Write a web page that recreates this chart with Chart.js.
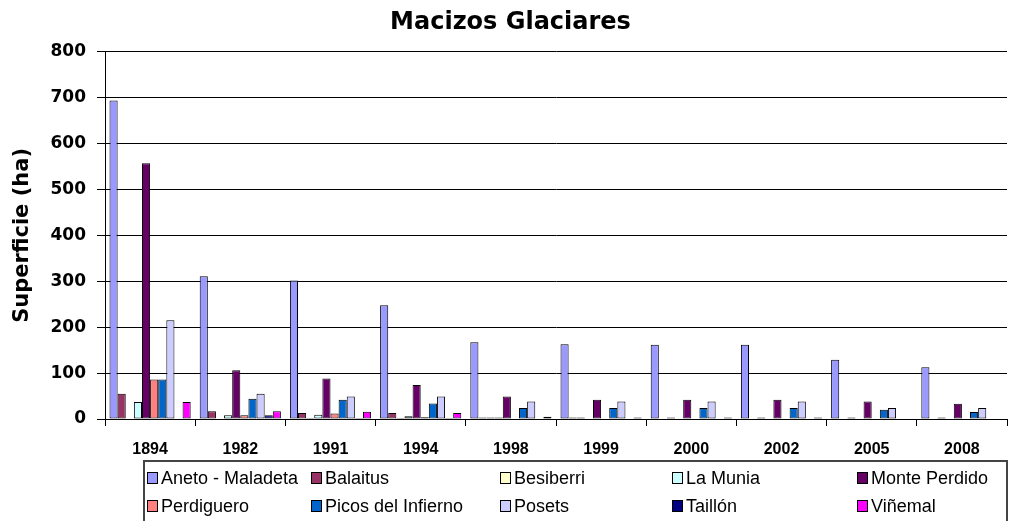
<!DOCTYPE html>
<html>
<head>
<meta charset="utf-8">
<script src="https://cdn.jsdelivr.net/npm/chart.js@4.4.0/dist/chart.umd.min.js"></script>
<style>
  html, body { margin: 0; padding: 0; background: #ffffff; }
  #wrap { width: 1012px; height: 521px; }
</style>
</head>
<body>
<div id="wrap"><canvas id="c" width="1012" height="521"></canvas></div>
<script>
const years = ['1894', '1982', '1991', '1994', '1998', '1999', '2000', '2002', '2005', '2008'];
const yTicks = [0, 100, 200, 300, 400, 500, 600, 700, 800];

const anetoMaladeta    = [694, 311, 302, 248, 167, 163, 162, 162, 129, 113];
const balaitus         = [55, 17, 13, 13, 3, 3, 0, 0, 0, 0];
const besiberri        = [0, 0, 2, 2, 3, 3, 3, 3, 3, 3];
const laMunia          = [37, 8, 9, 6, 3, 0, 0, 0, 0, 0];
const montePerdido     = [557, 106, 88, 74, 49, 42, 42, 42, 38, 33];
const perdiguero       = [86, 8, 12, 4, 0, 0, 0, 0, 0, 0];
const picosDelInfierno = [86, 44, 42, 34, 24, 24, 24, 24, 20, 15];
const posets           = [215, 55, 49, 49, 38, 38, 38, 38, 24, 24];
const taillon          = [0, 8, 2, 2, 0, 0, 0, 0, 0, 0];
const vinemal          = [37, 17, 16, 13, 5, 3, 3, 3, 0, 0];

const seriesNames  = ['Aneto - Maladeta', 'Balaitus', 'Besiberri', 'La Munia', 'Monte Perdido',
                      'Perdiguero', 'Picos del Infierno', 'Posets', 'Taillón', 'Viñemal'];
const seriesValues = [anetoMaladeta, balaitus, besiberri, laMunia, montePerdido,
                      perdiguero, picosDelInfierno, posets, taillon, vinemal];
const seriesColors = ['#9999FF', '#993366', '#FFFFCC', '#CCFFFF', '#660066',
                      '#FF8080', '#0066CC', '#CCCCFF', '#000080', '#FF00FF'];

const datasets = seriesNames.map((name, i) => ({
  label: name,
  data: seriesValues[i],
  backgroundColor: seriesColors[i],
  borderColor: '#000000',
  borderWidth: 1,
  borderSkipped: false,
  categoryPercentage: 0.9,
  barPercentage: 1.0
}));

const legendPlugin = {
  id: 'boxLegend',
  afterDraw(chart) {
    const ctx = chart.ctx;
    ctx.save();
    ctx.strokeStyle = '#444444';
    ctx.lineWidth = 2;
    ctx.strokeRect(144, 461, 863, 70);
    const colX = [147, 311, 500, 672, 857];
    const rowY = [478, 506];
    ctx.font = '18px "Liberation Sans", Arial, sans-serif';
    ctx.textBaseline = 'middle';
    ctx.textAlign = 'left';
    chart.data.datasets.forEach((ds, i) => {
      const x = colX[i % 5];
      const y = rowY[Math.floor(i / 5)];
      ctx.fillStyle = ds.backgroundColor;
      ctx.fillRect(x, y - 6, 10, 11);
      ctx.strokeStyle = '#000000';
      ctx.lineWidth = 1;
      ctx.strokeRect(x + 0.5, y - 5.5, 10, 11);
      ctx.fillStyle = '#000000';
      ctx.fillText(ds.label, x + 14, y + 1);
    });
    ctx.restore();
  }
};

new Chart(document.getElementById('c'), {
  type: 'bar',
  data: { labels: years, datasets: datasets },
  options: {
    responsive: false,
    animation: false,
    devicePixelRatio: 1,
    layout: { padding: { left: 14, right: 5, top: 0, bottom: 62 } },
    plugins: {
      legend: { display: false },
      tooltip: { enabled: false },
      title: {
        display: true,
        text: 'Macizos Glaciares',
        color: '#000000',
        font: { family: '"DejaVu Sans", sans-serif', size: 24, weight: 'bold', lineHeight: 1.2 },
        padding: { top: 8, bottom: 15 }
      }
    },
    scales: {
      x: {
        type: 'category',
        offset: true,
        grid: { drawOnChartArea: false, offset: true, color: '#000000', tickLength: 7 },
        border: { color: '#000000', width: 1 },
        ticks: {
          color: '#000000',
          padding: 14,
          maxRotation: 0,
          font: { family: '"Liberation Sans", Arial, sans-serif', size: 16, weight: 'bold' }
        },
        afterFit(s) { s.height = 40; }
      },
      y: {
        min: 0,
        max: 800,
        afterBuildTicks(s) { s.ticks = yTicks.map(v => ({ value: v })); },
        grid: { color: '#000000', lineWidth: 1, tickLength: 8 },
        border: { color: '#000000', width: 1 },
        ticks: {
          color: '#000000',
          padding: 11,
          font: { family: '"DejaVu Sans", sans-serif', size: 17, weight: 'bold' }
        },
        title: {
          display: true,
          text: 'Superficie (ha)',
          color: '#000000',
          padding: { top: 0, bottom: 0 },
          font: { family: '"DejaVu Sans", sans-serif', size: 21, weight: 'bold', lineHeight: 0.8 }
        },
        afterFit(s) { s.width = 91; }
      }
    }
  },
  plugins: [legendPlugin]
});
</script>
</body>
</html>
